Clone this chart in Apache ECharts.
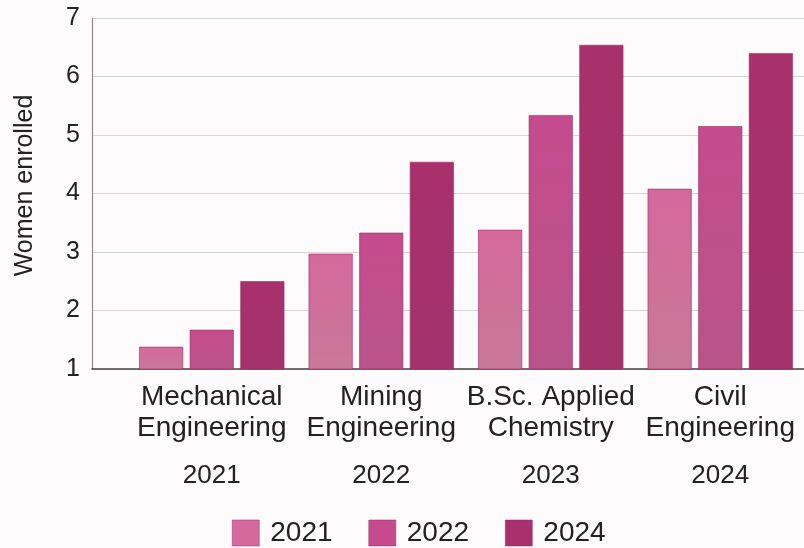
<!DOCTYPE html>
<html>
<head>
<meta charset="utf-8">
<script src="https://cdn.jsdelivr.net/npm/echarts@6/dist/echarts.min.js"></script>
<style>
html,body{margin:0;padding:0;background:#fdfbfb;}
#chart{width:804px;height:548px;}
</style>
</head>
<body>
<div id="chart"></div>
<script>
const categories = ["Mechanical\nEngineering", "Mining\nEngineering", "B.Sc. Applied\nChemistry", "Civil\nEngineering"];
const groupYears = ["2021", "2022", "2023", "2024"];
const seriesNames = ["2021", "2022", "2024"];
const values2021 = [1.38, 2.97, 3.38, 4.08];
const values2022 = [1.67, 3.33, 5.34, 5.15];
const values2024 = [2.50, 4.54, 6.54, 6.40];
const yTicks = [1, 2, 3, 4, 5, 6, 7];

const FONT = "'Liberation Sans', Arial, sans-serif";
const colors = [
  ['#d4699c', '#c97898'],
  ['#c54b8e', '#b8548a'],
  ['#a8306c', '#a3336a']
];
function grad(c) {
  return new echarts.graphic.LinearGradient(0, 0, 0, 1, [
    {offset: 0, color: c[0]}, {offset: 1, color: c[1]}
  ]);
}
const allValues = [values2021, values2022, values2024];

const chart = echarts.init(document.getElementById('chart'));
chart.setOption({
  backgroundColor: '#fdfbfb',
  animation: false,
  grid: [
    {left: 92, right: 0, top: 18, bottom: 179, containLabel: false, outerBoundsMode: 'none'},
    {left: 127, width: 678, top: 18, bottom: 179, containLabel: false, outerBoundsMode: 'none'}
  ],
  legend: {
    bottom: 1,
    left: 232,
    padding: 0,
    icon: 'rect',
    itemWidth: 27,
    itemHeight: 26,
    itemGap: 36,
    textStyle: {fontFamily: FONT, fontSize: 28, color: '#222', padding: [0, 0, 0, 6]},
    data: seriesNames.map((n, i) => ({name: n, itemStyle: {color: colors[i][0], borderColor: '#9a2e62', borderWidth: 0.5}}))
  },
  xAxis: [
    {
      gridIndex: 0, type: 'category', data: categories,
      axisLine: {show: true, lineStyle: {color: '#444', width: 1.5}},
      axisTick: {show: false}, axisLabel: {show: false}
    },
    {
      gridIndex: 1, type: 'category', data: categories,
      axisLine: {show: false}, axisTick: {show: false},
      axisLabel: {
        margin: 13,
        interval: 0,
        formatter: function (v, i) {
          return v.split('\n').map(s => '{n|' + s + '}').join('\n') + '\n{y|' + groupYears[i] + '}';
        },
        rich: {
          n: {fontFamily: FONT, fontSize: 28, color: '#222', lineHeight: 31},
          y: {fontFamily: FONT, fontSize: 26, color: '#222', lineHeight: 64}
        }
      }
    }
  ],
  yAxis: [
    {
      gridIndex: 0, type: 'value', min: yTicks[0], max: yTicks[yTicks.length - 1], interval: 1,
      name: 'Women enrolled', nameLocation: 'middle', nameGap: 54,
      nameTextStyle: {fontFamily: FONT, fontSize: 25, color: '#222', padding: [0, 0, 0, 16]},
      axisLine: {show: true, lineStyle: {color: '#8a8a8a', width: 1.2}},
      axisTick: {show: false},
      axisLabel: {fontFamily: FONT, fontSize: 25, color: '#222', margin: 12},
      splitLine: {show: true, lineStyle: {color: '#d8d5d7', width: 1.2}}
    },
    {
      gridIndex: 1, type: 'value', min: yTicks[0], max: yTicks[yTicks.length - 1], interval: 1,
      show: false, splitLine: {show: false}
    }
  ],
  series: seriesNames.map((n, i) => ({
    name: n,
    type: 'bar',
    xAxisIndex: 1,
    yAxisIndex: 1,
    barWidth: 44,
    barGap: '15%',
    data: allValues[i],
    itemStyle: {color: grad(colors[i]), borderColor: '#9a2e62', borderWidth: 0.6}
  }))
});
</script>
</body>
</html>
